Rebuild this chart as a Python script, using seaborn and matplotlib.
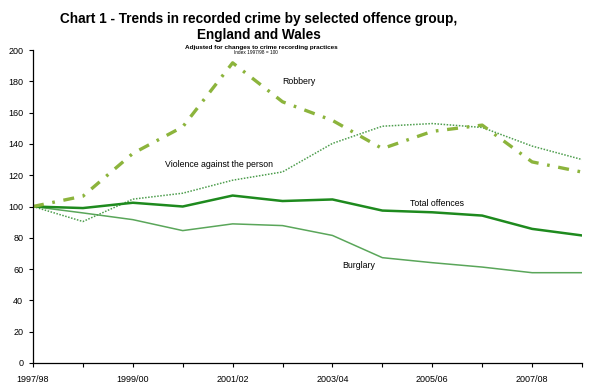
import matplotlib
matplotlib.use("Agg")
import matplotlib.pyplot as plt
import seaborn as sns
import pandas as pd

years = ["1997/98", "1998/99", "1999/00", "2000/01", "2001/02", "2002/03",
         "2003/04", "2004/05", "2005/06", "2006/07", "2007/08", "2008/09"]
total = [100, 99, 102.4, 100, 107, 103.5, 104.5, 97.4, 96.3, 94.2, 85.7, 81.5]
burglary = [100, 95.9, 91.6, 84.6, 88.9, 87.8, 81.5, 67.3, 64.1, 61.3, 57.7, 57.7]
violence = [100, 90.4, 104.7, 108.5, 116.8, 122.1, 140.3, 151.3, 153, 150.5, 138.6, 130]
robbery = [100, 106.6, 133.9, 150.9, 191.8, 166.9, 155, 137, 148, 152, 128.5, 122]

df = pd.DataFrame({"year": years, "Total offences": total, "Burglary": burglary,
                   "Violence against the person": violence, "Robbery": robbery})
df["x"] = range(len(years))

sns.set_style("white")
plt.rcParams['font.family'] = ['Liberation Sans', 'DejaVu Sans']
plt.rcParams['text.color'] = 'black'
plt.rcParams['xtick.color'] = 'black'
plt.rcParams['ytick.color'] = 'black'

fig = plt.figure(figsize=(5.95, 3.88), dpi=100)
ax = fig.add_axes([33 / 595, 1 - 363 / 388, (582 - 33) / 595, (363 - 50) / 388])

sns.lineplot(data=df, x="x", y="Burglary", ax=ax, color="#5aa65a", lw=1.1)
sns.lineplot(data=df, x="x", y="Violence against the person", ax=ax,
             color="#4e9e4e", lw=1.1, linestyle=(0, (1, 1)))
sns.lineplot(data=df, x="x", y="Total offences", ax=ax, color="#1e8a1e", lw=1.8)
sns.lineplot(data=df, x="x", y="Robbery", ax=ax, color="#8cb43c", lw=2.4,
             linestyle=(0, (3.3, 2.6, 0.8, 2.6)))

ax.set_xlim(0, len(years) - 1)
ax.set_ylim(0, 200)
ax.set_xticks(df["x"])
ax.set_xticklabels([y if i % 2 == 0 else "" for i, y in enumerate(years)], fontsize=6.5)
ax.set_yticks(range(0, 201, 20))
ax.tick_params(axis="y", labelsize=6.5, length=3, width=0.8, left=True, pad=4)
ax.tick_params(axis="x", length=3, width=0.8, bottom=True, pad=6)
ax.set_xlabel("")
ax.set_ylabel("")
for s in ["top", "right"]:
    ax.spines[s].set_visible(False)
for s in ["left", "bottom"]:
    ax.spines[s].set_color("black")
    ax.spines[s].set_linewidth(0.9)

ax.text(5.0, 178, "Robbery", fontsize=6.3)
ax.text(2.65, 125, "Violence against the person", fontsize=6.3)
ax.text(7.55, 100.5, "Total offences", fontsize=6.3)
ax.text(6.2, 60.5, "Burglary", fontsize=6.3)

cx = 259 / 595
fig.text(cx, 1 - 18.5 / 388, "Chart 1 - Trends in recorded crime by selected offence group,",
         ha="center", va="center", fontsize=9.8, fontweight="bold")
fig.text(cx, 1 - 35 / 388, "England and Wales", ha="center", va="center",
         fontsize=9.8, fontweight="bold")
fig.text(cx + 2 / 595, 1 - 48 / 388, "Adjusted for changes to crime recording practices",
         ha="center", va="center", fontsize=4.6, fontweight="bold")
fig.text(cx - 3 / 595, 1 - 52.5 / 388, "Index 1997/98 = 100", ha="center", va="center",
         fontsize=3.4)

fig.savefig("out.png", dpi=100)
